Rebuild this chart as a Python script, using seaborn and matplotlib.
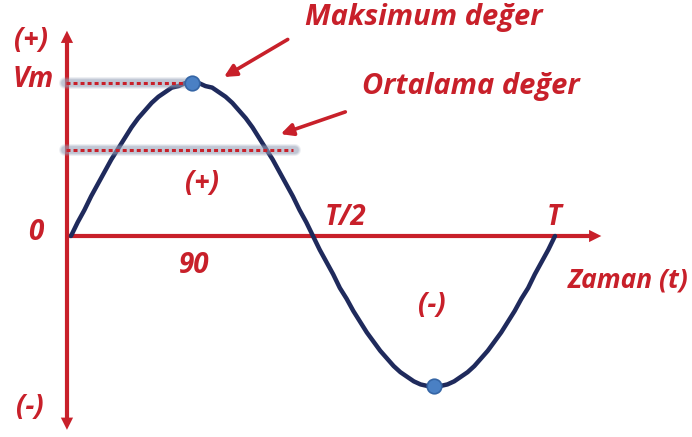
import numpy as np
import pandas as pd
import matplotlib
matplotlib.use("Agg")
import matplotlib.pyplot as plt
import seaborn as sns

# ---- data (angle in degrees, value in units of Vm) ----
angle_deg = list(range(0, 365, 5))
voltage = [0.00, 0.09, 0.17, 0.26, 0.34, 0.42, 0.50, 0.57, 0.64, 0.71, 0.77, 0.82,
           0.87, 0.91, 0.94, 0.97, 0.98, 1.00, 1.00, 1.00, 0.98, 0.97, 0.94, 0.91,
           0.87, 0.82, 0.77, 0.71, 0.64, 0.57, 0.50, 0.42, 0.34, 0.26, 0.17, 0.09,
           0.00, -0.09, -0.17, -0.25, -0.34, -0.41, -0.49, -0.56, -0.63, -0.69,
           -0.75, -0.80, -0.85, -0.89, -0.92, -0.95, -0.97, -0.98, -0.98, -0.98,
           -0.97, -0.95, -0.92, -0.89, -0.85, -0.80, -0.75, -0.69, -0.63, -0.56,
           -0.49, -0.41, -0.34, -0.25, -0.17, -0.09, 0.00]
peak_angles = [90, 270]
peak_values = [1.00, -0.98]
vm_level = 1.00
avg_level = 0.56

RED = "#C8202A"
NAVY = "#1F2A5C"
DOT = "#4A80C4"

df = pd.DataFrame({"angle": angle_deg, "v": voltage})
pk = pd.DataFrame({"angle": peak_angles, "v": peak_values})

sns.set_theme(style="white")
plt.rcParams["font.family"] = ["Open Sans", "DejaVu Sans"]

fig = plt.figure(figsize=(6.92, 4.37), dpi=100)
ax = fig.add_axes([0, 0, 1, 1])
ax.set_xlim(-52.8, 461.9)
ax.set_ylim(-1.3137, 1.5425)
ax.axis("off")

# axes (red arrows)
ax_x = -3.0
ax.plot([ax_x, 390], [0, 0], color=RED, lw=3, solid_capstyle="butt", zorder=2)
ax.annotate("", xy=(396.5, 0), xytext=(385, 0),
            arrowprops=dict(arrowstyle="-|>", color=RED, lw=0, mutation_scale=22), zorder=2)
ax.plot([ax_x, ax_x], [-1.22, 1.30], color=RED, lw=3, solid_capstyle="butt", zorder=2)
ax.annotate("", xy=(ax_x, 1.36), xytext=(ax_x, 1.28),
            arrowprops=dict(arrowstyle="-|>", color=RED, lw=0, mutation_scale=22), zorder=2)
ax.annotate("", xy=(ax_x, -1.285), xytext=(ax_x, -1.20),
            arrowprops=dict(arrowstyle="-|>", color=RED, lw=0, mutation_scale=22), zorder=2)

# sine curve and peak points
sns.lineplot(data=df, x="angle", y="v", ax=ax, color=NAVY, lw=3.2, zorder=3, sort=False)

# blurred shadow + dotted red level lines
for y0, x1 in [(vm_level, 92), (avg_level, 166.5)]:
    for w, a in [(8.5, 0.18), (7, 0.25), (5.5, 0.35)]:
        ax.plot([-4.5, x1], [y0, y0], color="#97A1B8", lw=w, alpha=a,
                solid_capstyle="round", zorder=3.5)
    ax.plot([-3.5, x1 - 1], [y0, y0], color=RED, lw=2.2, ls=(0, (1.3, 1.0)), zorder=4)

sns.scatterplot(data=pk, x="angle", y="v", ax=ax, color=DOT, s=110,
                edgecolor="#3565A5", linewidth=1.2, zorder=5)

# pointer arrows
ax.annotate("", xy=(112, 1.03), xytext=(163, 1.294),
            arrowprops=dict(arrowstyle="-|>", color=RED, lw=2.6, mutation_scale=18))
ax.annotate("", xy=(154, 0.66), xytext=(206, 0.817),
            arrowprops=dict(arrowstyle="-|>", color=RED, lw=2.6, mutation_scale=18))

tk = dict(color=RED, fontweight="bold", fontstyle="italic", ha="center", va="center")
ax.text(262.6, 1.431, "Maksimum değer", fontsize=21, **tk)
ax.text(297.5, 0.974, "Ortalama değer", fontsize=21, **tk)
ax.text(-29.8, 1.281, "(+)", fontsize=20, **tk)
ax.text(-28.3, 1.02, "Vm", fontsize=20, **tk)
ax.text(97.4, 0.346, "(+)", fontsize=20, **tk)
ax.text(-26, 0.02, "0", fontsize=20, **tk)
ax.text(91.5, -0.19, "90", fontsize=20, **tk)
ax.text(204.5, 0.124, "T/2", fontsize=20, **tk)
ax.text(359.3, 0.124, "T", fontsize=20, **tk)
ax.text(414.3, -0.288, "Zaman (t)", fontsize=19, **tk)
ax.text(268.5, -0.451, "(-)", fontsize=20, **tk)
ax.text(-30.5, -1.124, "(-)", fontsize=20, **tk)

fig.savefig("out.png", dpi=100)
